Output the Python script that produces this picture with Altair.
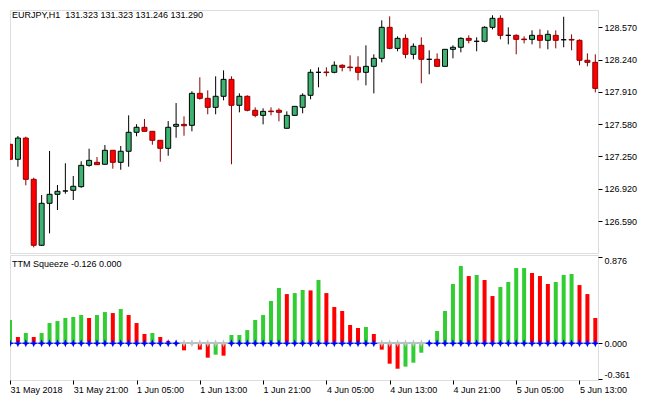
import json
import altair as alt
import pandas as pd

# ---------------- data ----------------
opens = [127.374, 127.221, 127.438, 127.016, 126.342, 126.771, 126.863, 126.897, 126.904, 126.941,
         127.159, 127.190, 127.170, 127.313, 127.190, 127.303, 127.497, 127.548, 127.507, 127.415,
         127.333, 127.558, 127.578, 127.568, 127.895, 127.844, 127.752, 127.865, 128.038, 127.773,
         127.865, 127.722, 127.670, 127.714, 127.722, 127.538, 127.670, 127.752, 127.875, 128.110,
         128.113, 128.110, 128.182, 128.164, 128.161, 128.110, 128.171, 128.253, 128.570, 128.355,
         128.457, 128.294, 128.386, 128.243, 128.243, 128.171, 128.345, 128.366, 128.457, 128.427,
         128.427, 128.570, 128.662, 128.488, 128.488, 128.450, 128.447, 128.488, 128.437, 128.488,
         128.443, 128.446, 128.437, 128.233, 128.212]
highs = [127.380, 127.459, 127.452, 127.033, 126.856, 127.306, 126.958, 127.180, 127.050, 127.200,
         127.329, 127.244, 127.367, 127.315, 127.357, 127.670, 127.579, 127.633, 127.509, 127.417,
         127.612, 127.796, 127.660, 127.916, 128.059, 127.926, 128.069, 128.130, 128.069, 127.895,
         127.875, 127.752, 127.742, 127.752, 127.742, 127.711, 127.765, 127.895, 128.141, 128.161,
         128.161, 128.222, 128.192, 128.284, 128.274, 128.386, 128.294, 128.641, 128.682, 128.478,
         128.498, 128.406, 128.468, 128.335, 128.304, 128.347, 128.386, 128.468, 128.488, 128.468,
         128.580, 128.693, 128.693, 128.570, 128.498, 128.478, 128.539, 128.550, 128.539, 128.539,
         128.678, 128.498, 128.447, 128.304, 128.294]
lows = [127.215, 127.145, 126.955, 126.321, 126.335, 126.464, 126.702, 126.869, 126.805, 126.930,
        127.145, 127.163, 127.168, 127.125, 127.114, 127.145, 127.456, 127.505, 127.370, 127.196,
        127.257, 127.441, 127.462, 127.507, 127.830, 127.681, 127.681, 127.824, 127.170, 127.701,
        127.711, 127.650, 127.578, 127.670, 127.609, 127.535, 127.668, 127.691, 127.834, 127.957,
        128.069, 128.100, 128.120, 128.120, 128.028, 127.977, 127.895, 128.212, 128.345, 128.325,
        128.253, 128.243, 127.998, 128.090, 128.168, 128.168, 128.253, 128.314, 128.406, 128.325,
        128.417, 128.549, 128.447, 128.396, 128.294, 128.406, 128.396, 128.355, 128.345, 128.355,
        128.366, 128.335, 128.182, 128.171, 127.905]
closes = [127.221, 127.438, 127.016, 126.342, 126.771, 126.863, 126.894, 126.897, 126.945, 127.159,
          127.210, 127.166, 127.313, 127.190, 127.303, 127.497, 127.548, 127.507, 127.415, 127.333,
          127.548, 127.578, 127.564, 127.895, 127.844, 127.752, 127.865, 128.038, 127.773, 127.865,
          127.722, 127.670, 127.711, 127.708, 127.701, 127.670, 127.762, 127.875, 128.110, 128.110,
          128.107, 128.182, 128.161, 128.158, 128.110, 128.171, 128.253, 128.570, 128.355, 128.457,
          128.294, 128.376, 128.243, 128.243, 128.171, 128.345, 128.366, 128.457, 128.437, 128.427,
          128.570, 128.662, 128.488, 128.488, 128.447, 128.444, 128.488, 128.437, 128.498, 128.437,
          128.443, 128.440, 128.233, 128.212, 127.946]

hist_values = [0.236, 0.064, 0.104, 0.064, 0.104, 0.205, 0.225, 0.256, 0.266, 0.286,
               0.256, 0.286, 0.316, 0.306, 0.347, 0.286, 0.205, 0.094, 0.104, 0.064,
               0.024, 0.003, -0.071, -0.006, -0.064, -0.145, -0.115, -0.125, 0.084, 0.084,
               0.134, 0.236, 0.286, 0.428, 0.559, 0.498, 0.508, 0.539, 0.535, 0.640,
               0.508, 0.367, 0.327, 0.185, 0.155, 0.165, 0.094, -0.064, -0.206, -0.257,
               -0.236, -0.196, -0.095, 0.008, 0.124, 0.327, 0.600, 0.782, 0.680, 0.691,
               0.640, 0.478, 0.569, 0.620, 0.761, 0.761, 0.711, 0.680, 0.600, 0.620,
               0.691, 0.701, 0.589, 0.498, 0.256]
hist_colors = ["g", "r", "g", "r", "g", "g", "g", "g", "g", "g",
               "r", "g", "g", "r", "g", "r", "r", "r", "g", "r",
               "r", "r", "r", "g", "r", "r", "g", "r", "g", "g",
               "g", "g", "g", "g", "g", "r", "g", "g", "r", "g",
               "r", "r", "r", "r", "r", "g", "r", "r", "r", "r",
               "g", "g", "g", "g", "g", "g", "g", "g", "r", "g",
               "r", "r", "g", "g", "g", "g", "r", "r", "r", "g",
               "g", "g", "r", "r", "r"]
squeeze = ["b"] * 22 + ["s"] * 6 + ["b"] * 19 + ["s"] * 6 + ["b"] * 22

price_ticks = [126.59, 126.92, 127.25, 127.58, 127.91, 128.24, 128.57]
osc_ticks = [-0.361, 0.0, 0.876]
time_labels = ["31 May 2018", "31 May 21:00", "1 Jun 05:00", "1 Jun 13:00", "1 Jun 21:00",
               "4 Jun 05:00", "4 Jun 13:00", "4 Jun 21:00", "5 Jun 05:00", "5 Jun 13:00"]
time_ticks = [8 * i for i in range(len(time_labels))]

main_title = "EURJPY,H1\u00a0 131.323 131.323 131.246 131.290"
sub_title = "TTM Squeeze -0.126 0.000"

# ---------------- tables ----------------
idx = list(range(len(opens)))
candles = pd.DataFrame({"i": idx, "open": opens, "high": highs, "low": lows, "close": closes})
candles["dir"] = ["up" if c >= o else "down" for o, c in zip(opens, closes)]
osc = pd.DataFrame({"i": idx, "v": hist_values, "c": hist_colors, "sq": squeeze})

FONT = "Liberation Sans"
W = 588
xs = alt.Scale(domain=[0, 74.34], nice=False, zero=False, padding=0)
stroke_scale = alt.Scale(domain=["up", "down"], range=["#000000", "#8b0000"])
fill_scale = alt.Scale(domain=["up", "down"], range=["#3cb371", "#ff0000"])

price_axis = alt.Axis(orient="right", values=price_ticks, format=".3f", tickSize=4,
                      tickColor="black", domain=False, grid=False, labelFont=FONT,
                      labelFontSize=9, labelColor="black", labelPadding=2, title=None)

wick = alt.Chart(candles).mark_rule(strokeWidth=1, clip=True).encode(
    x=alt.X("i:Q", scale=xs, axis=None),
    y=alt.Y("low:Q", scale=alt.Scale(domain=[126.263, 128.747], nice=False, zero=False, padding=0),
            axis=price_axis),
    y2="high:Q",
    stroke=alt.Stroke("dir:N", scale=stroke_scale, legend=None),
)
body = alt.Chart(candles).mark_bar(size=5, strokeWidth=1, clip=True).encode(
    x=alt.X("i:Q", scale=xs, axis=None),
    y="open:Q",
    y2="close:Q",
    fill=alt.Fill("dir:N", scale=fill_scale, legend=None),
    stroke=alt.Stroke("dir:N", scale=stroke_scale, legend=None),
)
title1 = alt.Chart(pd.DataFrame({"t": [main_title]})).mark_text(
    align="left", baseline="alphabetic", font=FONT, fontSize=9, color="black"
).encode(text="t:N", x=alt.value(2), y=alt.value(8))

main = alt.layer(wick, body, title1).properties(width=W, height=243)

color_scale = alt.Scale(domain=["g", "r", "b", "s"],
                        range=["#32cd32", "#ff0000", "#0000ff", "#c0c0c0"])
label_expr = json.dumps(time_labels) + "[round(datum.value / 8)]"
time_axis = alt.Axis(orient="bottom", values=time_ticks, labelExpr=label_expr, tickSize=4,
                     tickColor="black", domain=False, grid=False, labelAlign="left",
                     labelFlush=False, labelPadding=1, labelFont=FONT, labelFontSize=9,
                     labelColor="black", title=None)
osc_axis = alt.Axis(orient="right", values=osc_ticks,
                    labelExpr="datum.value < 0 ? '-' + format(-datum.value, '.3f') : format(datum.value, '.3f')",
                    tickSize=4, tickColor="black", domain=False, grid=False, labelFont=FONT,
                    labelFontSize=9, labelColor="black", labelPadding=2, labelFlush=4, title=None)

ys = alt.Scale(domain=[-0.371, 0.893], nice=False, zero=False, padding=0)
zero = alt.Chart(osc).mark_rule(color="#a6c6d8", strokeWidth=1).encode(
    x=alt.value(0), x2=alt.value(W), y=alt.Y(datum=0)
)
bars = alt.Chart(osc).mark_bar(size=4, clip=True).encode(
    x=alt.X("i:Q", scale=xs, axis=time_axis),
    y=alt.Y("v:Q", scale=ys, axis=osc_axis),
    y2=alt.datum(0),
    color=alt.Color("c:N", scale=color_scale, legend=None),
)
STAR = "M0,-1L0.28,-0.28L1,0L0.28,0.28L0,1L-0.28,0.28L-1,0L-0.28,-0.28Z"
dots = alt.Chart(osc).mark_point(shape=STAR, filled=True, size=64, opacity=1, clip=True).encode(
    x=alt.X("i:Q", scale=xs),
    y=alt.datum(0),
    color=alt.Color("sq:N", scale=color_scale, legend=None),
)
title2 = alt.Chart(pd.DataFrame({"t": [sub_title]})).mark_text(
    align="left", baseline="alphabetic", font=FONT, fontSize=9, color="black"
).encode(text="t:N", x=alt.value(2), y=alt.value(12))

sub = alt.layer(bars, zero, dots, title2).properties(width=W, height=125)

chart = alt.vconcat(main, sub, spacing=2, bounds="flush").properties(
    padding={"left": 1, "top": 1, "right": 0, "bottom": 0}
).configure_view(stroke="black", strokeWidth=1).configure(background="white")

chart.save("out.html", embed_options={"renderer": "svg", "actions": False})
